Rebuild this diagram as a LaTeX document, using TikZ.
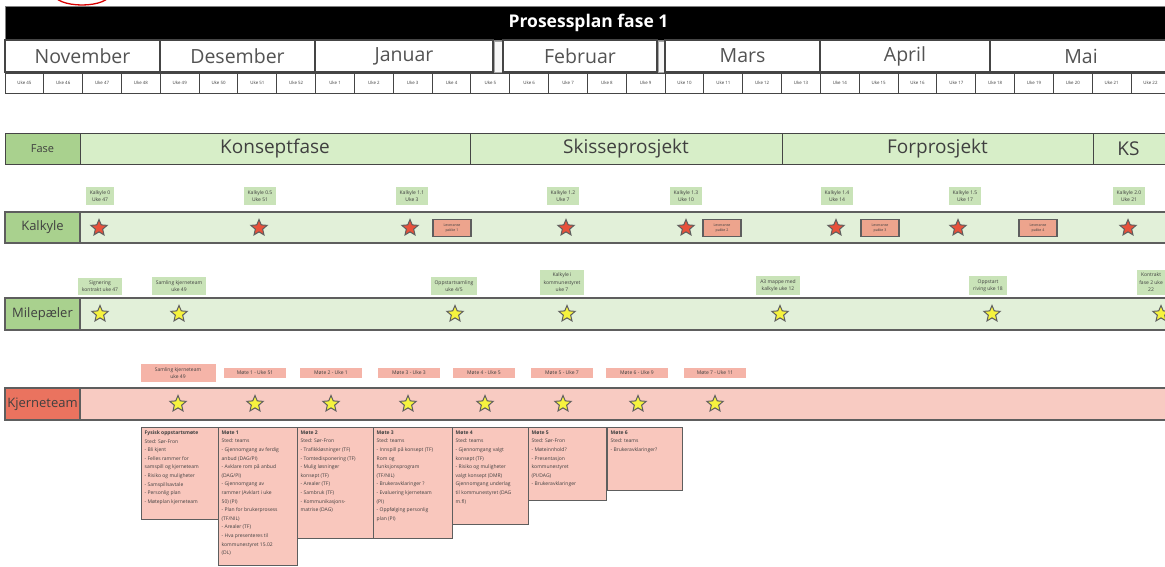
\documentclass[tikz,border=0pt]{standalone}
\usepackage{fontspec}
\setmainfont{Open Sans}
\usetikzlibrary{shapes.geometric}

\definecolor{linegray}{HTML}{454545}
\definecolor{bargray}{HTML}{5E5E5E}
\definecolor{txtgray}{HTML}{404040}
\definecolor{fasedark}{HTML}{A9D18E}
\definecolor{faselight}{HTML}{D7EEC8}
\definecolor{rowgreen}{HTML}{E2F0D9}
\definecolor{taggreen}{HTML}{C9E3B8}
\definecolor{kjdark}{HTML}{EA735F}
\definecolor{kjlight}{HTML}{F8CBC2}
\definecolor{kjtag}{HTML}{F5B4A8}
\definecolor{notepink}{HTML}{F9C7BD}
\definecolor{pakkecol}{HTML}{EDA48D}
\definecolor{starred}{HTML}{E8513B}
\definecolor{staryellow}{HTML}{F6F33E}

\tikzset{
  monthbox/.style={draw=linegray, line width=1.2pt, fill=white},
  monthtext/.style={font=\fontsize{19.5}{21}\selectfont, text=txtgray!90},
  weekbox/.style={draw=linegray, line width=1pt, fill=white},
  weektext/.style={font=\fontsize{4.4}{5}\selectfont, text=txtgray},
  fasecell/.style={draw=linegray, line width=1pt, fill=#1},
  fasetext/.style={font=\fontsize{19}{21}\selectfont, text=txtgray},
  rowbar/.style={draw=bargray, line width=2.2pt, fill=#1},
  rowtext/.style={font=\fontsize{13}{15}\selectfont, text=txtgray},
  tag/.style={fill=#1, inner xsep=4pt, inner ysep=3pt, align=center,
    font=\fontsize{5}{7.5}\selectfont, text=txtgray},
  redstar/.style={star, star points=5, star point ratio=2.2, minimum size=17pt,
    inner sep=0pt, fill=starred, draw=bargray, line width=1pt},
  yellowstar/.style={redstar, fill=staryellow},
  pakke/.style={draw=bargray, line width=1.4pt, fill=pakkecol, align=center,
    font=\fontsize{3.6}{5}\selectfont, text=txtgray, minimum width=38pt,
    minimum height=17pt, inner sep=1pt},
  notebox/.style={draw=bargray, line width=1.4pt, fill=notepink, anchor=north west,
    inner sep=3pt, font=\fontsize{5}{8.6}\selectfont, text=txtgray},
}
\newcommand{\notetext}[3]{\parbox[t][#2][t]{#1}{\raggedright #3}}

\begin{document}
\begin{tikzpicture}[x=1pt,y=-1pt]
\useasboundingbox (0,0) rectangle (1165,566);
\clip (0,0) rectangle (1165,566);

% header
\draw[red!85!black, line width=1.3pt] (82,-6) ellipse [x radius=28, y radius=11];
\draw[fill=black, draw=gray] (5,6) rectangle (1172,40) node[pos=.5, text=white, font=\bfseries\fontsize{17.5}{19}\selectfont] (title) {Prosessplan fase 1};

\draw[monthbox] (5,40) rectangle (160,72) node[pos=.5, monthtext] (nov) {November};
\draw[monthbox] (160,40) rectangle (315,72) node[pos=.5, monthtext] (des) {Desember};
\draw[monthbox] (315,40) rectangle (493,72) node[pos=.5, monthtext] (jan) {Januar};
\draw[fill=gray!6, draw=gray!70] (494,41) rectangle (502,72);
\draw[monthbox] (503,40) rectangle (657,72) node[pos=.5, monthtext] (feb) {Februar};
\draw[fill=gray!6, draw=gray!70] (658,41) rectangle (664,72);
\draw[monthbox] (665,40) rectangle (820,72) node[pos=.5, monthtext] (mar) {Mars};
\draw[monthbox] (820,40) rectangle (990,72) node[pos=.5, monthtext] (apr) {April};
\draw[monthbox] (990,40) rectangle (1172,72) node[pos=.5, monthtext] (mai) {Mai};

\foreach \w [count=\i from 0] in {45,46,47,48,49,50,51,52,1,2,3,4,5,6,7,8,9,10,11,12,13,14,15,16,17,18,19,20,21,22}
  \draw[weekbox] ({5+38.83*\i},73) rectangle ({43.83+38.83*\i},93) node[pos=.5, weektext] (uke\w) {Uke \w};

% fase
\draw[fasecell=fasedark] (5,133) rectangle (80,164) node[pos=.5, font=\fontsize{11}{12}\selectfont, text=txtgray] (fase) {Fase};
\draw[fasecell=faselight] (80,133) rectangle (470,164) node[pos=.5, fasetext] (konsept) {Konseptfase};
\draw[fasecell=faselight] (470,133) rectangle (782,164) node[pos=.5, fasetext] (skisse) {Skisseprosjekt};
\draw[fasecell=faselight] (782,133) rectangle (1093,164) node[pos=.5, fasetext] (forpro) {Forprosjekt};
\draw[fasecell=faselight] (1093,133) rectangle (1172,164) node[pos=.5, fasetext, xshift=-4pt] (ks) {KS};

% kalkyle
\draw[rowbar=rowgreen] (80,212) rectangle (1172,243);
\draw[rowbar=fasedark] (5,212) rectangle (80,243) node[pos=.5, rowtext] (kalkyle) {Kalkyle};
\foreach \x/\k/\u [count=\n] in {100/0/47, 260/0.5/51, 412/1.1/3, 563/1.2/7, 686/1.3/10, 837/1.4/14, 965/1.5/17, 1129/2.0/21}
  \node[tag=taggreen, anchor=south] (kat\n) at (\x,205) {Kalkyle \k\\Uke \u};
\foreach \x [count=\n] in {99,259,410,566,686,836,958,1128}
  \node[redstar] (kas\n) at (\x,228) {};
\foreach \x [count=\n] in {452,722,880,1038}
  \node[pakke] (lp\n) at (\x,228) {Leveranse\\pakke \n};

% milepaeler
\draw[rowbar=rowgreen] (80,298) rectangle (1172,330);
\draw[rowbar=fasedark] (5,298) rectangle (80,330) node[pos=.5, rowtext] (mile) {Milepæler};
\node[tag=taggreen, anchor=south] (mt1) at (100,295) {Signering\\kontrakt uke 47};
\node[tag=taggreen, anchor=south] (mt2) at (179,295) {Samling kjerneteam\\uke 49};
\node[tag=taggreen, anchor=south] (mt3) at (454,295) {Oppstartsamling\\uke 4/5};
\node[tag=taggreen, anchor=south] (mt4) at (562,295) {Kalkyle i\\kommunestyret\\uke 7};
\node[tag=taggreen, anchor=south] (mt5) at (778,295) {A3 mappe med\\kalkyle uke 12};
\node[tag=taggreen, anchor=south] (mt6) at (988,295) {Oppstart\\riving uke 18};
\node[tag=taggreen, anchor=south east, inner xsep=2pt] (mt7) at (1165,295) {Kontrakt\\fase 2 uke\\22};
\foreach \x [count=\n] in {100,179,455,567,780,992,1161}
  \node[yellowstar] (ms\n) at (\x,314) {};

% kjerneteam
\draw[rowbar=kjlight] (80,388) rectangle (1172,420);
\draw[rowbar=kjdark] (5,388) rectangle (80,420) node[pos=.5, rowtext] (kjerne) {Kjerneteam};
\node[tag=kjtag, minimum width=75pt] (kjt0) at (178,373) {Samling kjerneteam\\uke 49};
\foreach \x/\m/\u in {255/1/51, 331/2/1, 409/3/3, 484/4/5, 562/5/7, 637/6/9, 715/7/11}
  \node[tag=kjtag, minimum width=62pt] (kjt\m) at (\x,373) {Møte \m{} - Uke \u};
\foreach \x [count=\n] in {178,255,331,408,485,563,638,715}
  \node[yellowstar] (kjs\n) at (\x,404) {};

% motenotater
\node[notebox] (fysisk) at (141,427) {\notetext{71pt}{86pt}{\textbf{Fysisk oppstartsmøte}\\Sted: Sør-Fron\\- Bli kjent\\- Felles rammer for\\samspill og kjerneteam\\- Risiko og muligheter\\- Samspillsavtale\\- Personlig plan\\- Møteplan kjerneteam}};
\node[notebox] (mote1) at (218,427) {\notetext{73pt}{132pt}{\textbf{Møte 1}\\Sted: teams\\- Gjennomgang av ferdig\\anbud (DAG/PI)\\- Avklare rom på anbud\\(DAG/PI)\\- Gjennomgang av\\rammer (Avklart i uke\\50) (PI)\\- Plan for brukerprosess\\(TF/NIL)\\- Arealer (TF)\\- Hva presenteres til\\kommunestyret 15.02\\(DL)}};
\node[notebox] (mote2) at (297,427) {\notetext{70pt}{105pt}{\textbf{Møte 2}\\Sted: Sør-Fron\\- Trafikkløsninger (TF)\\- Tomtedisponering (TF)\\- Mulig løsninger\\konsept (TF)\\- Arealer (TF)\\- Sambruk (TF)\\- Kommunikasjons-\\matrise (DAG)}};
\node[notebox] (mote3) at (373,427) {\notetext{73pt}{105pt}{\textbf{Møte 3}\\Sted: teams\\- Innspill på konsept (TF)\\Rom og\\funksjonsprogram\\(TF/NIL)\\- Brukeravklaringer ?\\- Evaluering kjerneteam\\(PI)\\- Oppfølging personlig\\plan (PI)}};
\node[notebox] (mote4) at (452,427) {\notetext{70pt}{91pt}{\textbf{Møte 4}\\Sted: teams\\- Gjennomgang valgt\\konsept (TF)\\- Risiko og muligheter\\valgt konsept (DMR)\\Gjennomgang underlag\\til kommunestyret (DAG\\m.fl)}};
\node[notebox] (mote5) at (528,427) {\notetext{72pt}{67pt}{\textbf{Møte 5}\\Sted: Sør-Fron\\- Møteinnhold?\\- Presentasjon\\kommunestyret\\(PI/DAG)\\- Brukeravklaringer}};
\node[notebox] (mote6) at (607,427) {\notetext{69pt}{57pt}{\textbf{Møte 6}\\Sted: teams\\- Brukeravklaringer?}};
\end{tikzpicture}
\end{document}
